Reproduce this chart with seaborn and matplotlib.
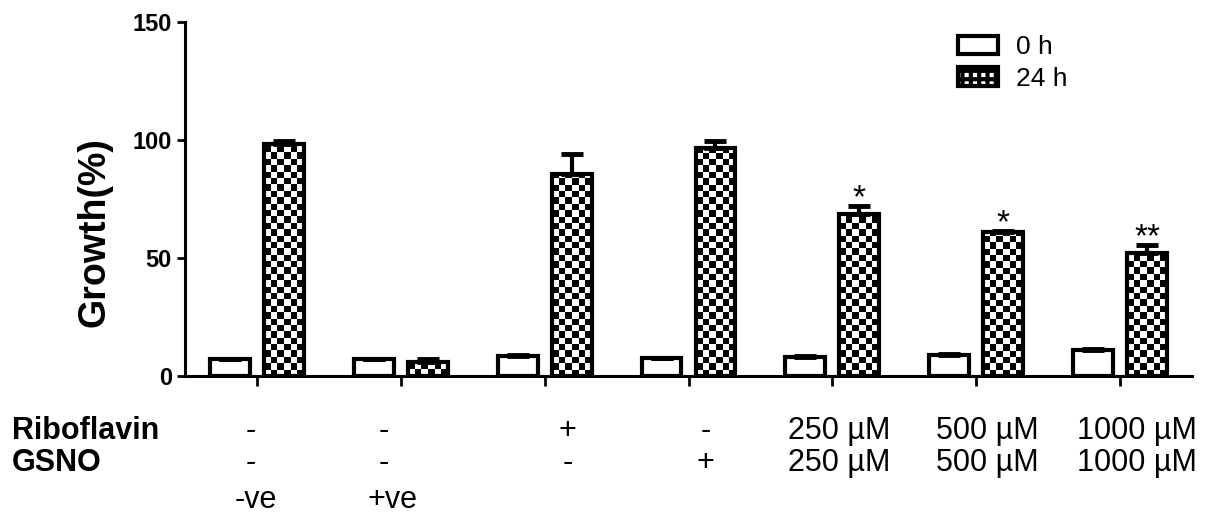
import numpy as np
import pandas as pd
import seaborn as sns
import matplotlib.pyplot as plt
import matplotlib.transforms as mtransforms
from matplotlib.colors import ListedColormap
from matplotlib.patches import Patch

# Data
groups = ['-ve', '+ve', 'Riboflavin', 'GSNO', '250', '500', '1000']
times = ['0 h', '24 h']
growth_0h = [7, 7, 8.5, 7.5, 8, 9, 11]
growth_24h = [98.5, 6, 85.5, 96.5, 68.5, 61, 52]
err_0h = [0.4, 0.3, 0.4, 0.3, 0.4, 0.5, 0.6]
err_24h = [1, 1.3, 8.5, 3, 3.5, 0.5, 3.5]
stars = ['', '', '', '', '*', '*', '**']

riboflavin_row = ['-', '-', '+', '-', '250 µM', '500 µM', '1000 µM']
gsno_row = ['-', '-', '-', '+', '250 µM', '500 µM', '1000 µM']
control_row = ['-ve', '+ve', '', '', '', '', '']

# small horizontal shifts of the condition labels under each group
label_shift = [-0.04, -0.12, 0.16, 0.12, 0.05, 0.08, 0.12]
control_shift = [-0.01, -0.06, 0, 0, 0, 0, 0]

df = pd.DataFrame({
    'group': groups * 2,
    'time': [times[0]] * len(groups) + [times[1]] * len(groups),
    'growth': growth_0h + growth_24h,
})

sns.set_style('ticks')
plt.rcParams['font.family'] = ['Liberation Sans', 'DejaVu Sans']
plt.rcParams['hatch.linewidth'] = 3
plt.rcParams.update({'text.color': 'black', 'axes.labelcolor': 'black',
                     'xtick.color': 'black', 'ytick.color': 'black',
                     'axes.edgecolor': 'black'})

fig = plt.figure(figsize=(12.17, 5.25), dpi=100)
ax = fig.add_axes([185 / 1217, 1 - 376 / 525, 1007 / 1217, 354 / 525])

sns.barplot(data=df, x='group', y='growth', hue='time', order=groups, hue_order=times,
            palette=['white', 'white'], saturation=1, edgecolor='black', linewidth=3,
            width=0.75, gap=0.26, errorbar=None, legend=False, ax=ax)

# upward-only error bars
for cont, errs in zip(ax.containers, [err_0h, err_24h]):
    xc = [b.get_x() + b.get_width() / 2 for b in cont]
    vals = [b.get_height() for b in cont]
    ax.errorbar(xc, vals, yerr=[np.zeros(len(errs)), errs], fmt='none', ecolor='black',
                elinewidth=3, capsize=8, capthick=3.5, zorder=3)

# checkerboard fill for the 24 h bars
checker = ListedColormap(['white', 'black'])
cell_y = 2.7
for b in ax.containers[1]:
    x0, y0, w, h = b.get_x(), b.get_y(), b.get_width(), b.get_height()
    ny = int(np.ceil(h / cell_y)) + 1
    nx = 6
    board = np.indices((ny, nx)).sum(axis=0) % 2
    b.set_facecolor('none')
    im = ax.imshow(board, cmap=checker, extent=(x0, x0 + w, y0, y0 + ny * cell_y),
                   origin='lower', interpolation='nearest', aspect='auto', zorder=0.9)
    im.set_clip_path(b)

# significance stars
for i, s in enumerate(stars):
    if s:
        x = ax.containers[1][i].get_x() + ax.containers[1][i].get_width() / 2
        ax.text(x, growth_24h[i] + err_24h[i] - 3.5, s, ha='center', va='bottom', fontsize=24)

ax.set_xlim(-0.5, 6.5)
ax.set_ylim(0, 150)
ax.set_yticks([0, 50, 100, 150])
ax.set_xticks(range(len(groups)))
ax.tick_params(axis='x', labelbottom=False, length=7, width=2, direction='out')
ax.tick_params(axis='y', length=6, width=2, direction='out', labelsize=17)
for lab in ax.get_yticklabels():
    lab.set_fontweight('bold')
ax.set_xlabel('')
ax.set_ylabel('Growth(%)', fontsize=27, fontweight='bold')
ax.yaxis.set_label_coords(-0.072, 0.407)
sns.despine(ax=ax)
for sp in ['left', 'bottom']:
    ax.spines[sp].set_linewidth(2.2)

# condition table below the axis
trans = mtransforms.blended_transform_factory(ax.transData, fig.transFigure)
y_ribo, y_gsno, y_ctrl = 1 - 431 / 525, 1 - 463 / 525, 1 - 500 / 525
fig.text(12 / 1217, y_ribo, 'Riboflavin', fontsize=22, fontweight='bold', va='center')
fig.text(12 / 1217, y_gsno, 'GSNO', fontsize=22, fontweight='bold', va='center')
for i in range(len(groups)):
    ax.text(i + label_shift[i], y_ribo, riboflavin_row[i], transform=trans,
            ha='center', va='center', fontsize=22)
    ax.text(i + label_shift[i], y_gsno, gsno_row[i], transform=trans,
            ha='center', va='center', fontsize=22)
    if control_row[i]:
        ax.text(i + control_shift[i], y_ctrl, control_row[i], transform=trans,
                ha='center', va='center', fontsize=22)

handles = [Patch(facecolor='white', edgecolor='black', linewidth=3, label=times[0]),
           Patch(facecolor='white', edgecolor='black', linewidth=3, hatch='++', label=times[1])]
fig.legend(handles=handles, loc='upper left', bbox_to_anchor=(958 / 1217, 1 - 35 / 525),
           frameon=False, fontsize=19, handlelength=1.5, handleheight=0.7,
           handletextpad=0.7, labelspacing=0.3, borderpad=0, borderaxespad=0)

fig.savefig('out.png', dpi=100)
